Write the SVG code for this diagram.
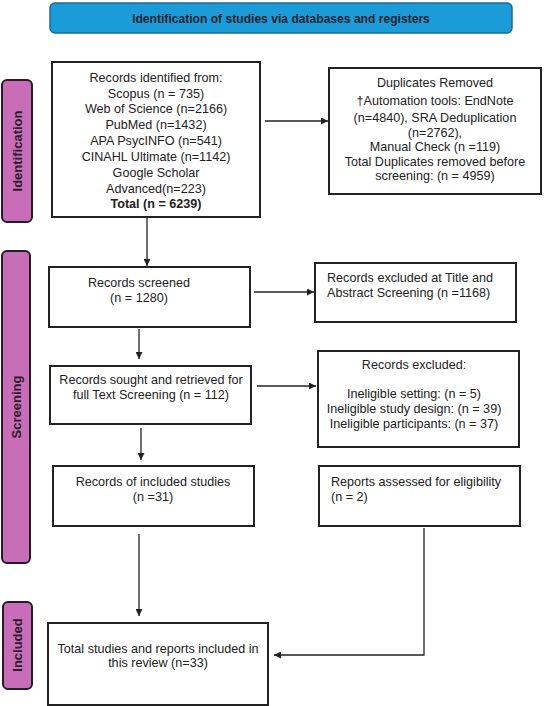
<svg xmlns="http://www.w3.org/2000/svg" width="550" height="706" viewBox="0 0 550 706">
<defs>
<style>
.box{fill:#fff;stroke:#222;stroke-width:2}
.side{fill:#c86db8;stroke:#2a1a25;stroke-width:2}
.t{font-family:"Liberation Sans",Arial,sans-serif;font-size:12.6px;fill:#222}
.c{text-anchor:middle}
.sl{font-family:"Liberation Sans",Arial,sans-serif;font-size:13px;font-weight:bold;fill:#2d1a2a;text-anchor:middle}
.ln{fill:none;stroke:#222;stroke-width:1.3}
</style>
<marker id="ah" viewBox="0 0 10 10" refX="10" refY="5" markerWidth="7" markerHeight="7" orient="auto" markerUnits="userSpaceOnUse">
<path d="M0,0 L10,5 L0,10 z" fill="#222"/>
</marker>
</defs>
<rect width="550" height="706" fill="#fff"/>
<g id="header">
<rect x="50" y="3" width="462" height="30" rx="5" fill="#1b9bd7" stroke="#1b6b95" stroke-width="1.5"/>
<text x="281" y="22.5" class="t c" style="font-weight:bold;font-size:12.1px;fill:#1a2530">Identification of studies via databases and registers</text>
</g>
<g id="side-identification">
<rect x="2" y="80" width="30" height="142" rx="5" class="side"/>
<text class="sl" transform="translate(21.5,151) rotate(-90)">Identification</text>
</g>
<g id="side-screening">
<rect x="2" y="251" width="28" height="312" rx="5" class="side"/>
<text class="sl" transform="translate(20.5,407) rotate(-90)">Screening</text>
</g>
<g id="side-included">
<rect x="3" y="602" width="29" height="87" rx="5" class="side"/>
<text class="sl" transform="translate(22,645) rotate(-90)">Included</text>
</g>
<g id="records-identified">
<rect x="52" y="62" width="208" height="155" class="box"/>
<text class="t c" x="156" y="82">Records identified from:</text>
<text class="t c" x="156" y="97.5">Scopus (n = 735)</text>
<text class="t c" x="156" y="113">Web of Science (n=2166)</text>
<text class="t c" x="156" y="129">PubMed (n=1432)</text>
<text class="t c" x="156" y="145">APA PsycINFO (n=541)</text>
<text class="t c" x="156" y="161">CINAHL Ultimate (n=1142)</text>
<text class="t c" x="156" y="176.5">Google Scholar</text>
<text class="t c" x="156" y="192.5">Advanced(n=223)</text>
<text class="t c" x="156" y="207.5" font-weight="bold">Total (n = 6239)</text>
</g>
<g id="duplicates">
<rect x="329" y="68" width="212" height="126" class="box"/>
<text class="t c" x="435" y="86.5">Duplicates Removed</text>
<text class="t c" x="435" y="105">†Automation tools: EndNote</text>
<text class="t c" x="435" y="121.5">(n=4840), SRA Deduplication</text>
<text class="t c" x="435" y="137">(n=2762),</text>
<text class="t c" x="435" y="151">Manual Check (n =119)</text>
<text class="t c" x="435" y="165.5">Total Duplicates removed before</text>
<text class="t c" x="435" y="179.5">screening: (n = 4959)</text>
</g>
<g id="records-screened">
<rect x="49" y="267" width="201" height="60" class="box"/>
<text class="t c" x="139" y="286.5">Records screened</text>
<text class="t c" x="139" y="301.5">(n = 1280)</text>
</g>
<g id="excluded-title">
<rect x="315" y="263" width="201" height="59" class="box"/>
<text class="t" x="327" y="281.5">Records excluded at Title and</text>
<text class="t" x="327" y="296.5">Abstract Screening (n =1168)</text>
</g>
<g id="records-sought">
<rect x="50" y="366" width="201" height="58" class="box"/>
<text class="t c" x="151" y="383.5">Records sought and retrieved for</text>
<text class="t c" x="151" y="398.5">full Text Screening (n = 112)</text>
</g>
<g id="records-excluded">
<rect x="318" y="351" width="201" height="96" class="box"/>
<text class="t c" x="414" y="368.5">Records excluded:</text>
<text class="t c" x="414" y="397.5">Ineligible setting: (n = 5)</text>
<text class="t c" x="414" y="412.5">Ineligible study design: (n = 39)</text>
<text class="t c" x="414" y="427.5">Ineligible participants: (n = 37)</text>
</g>
<g id="records-included">
<rect x="53" y="466" width="201" height="60" class="box"/>
<text class="t c" x="153" y="485.5">Records of included studies</text>
<text class="t c" x="153" y="500.5">(n =31)</text>
</g>
<g id="reports-assessed">
<rect x="319" y="466" width="201" height="60" class="box"/>
<text class="t" x="331" y="485.5">Reports assessed for eligibility</text>
<text class="t" x="331" y="500.5">(n = 2)</text>
</g>
<g id="total-included">
<rect x="48" y="623" width="220" height="82" class="box"/>
<text class="t c" x="158" y="652.5">Total studies and reports included in</text>
<text class="t c" x="158" y="667">this review (n=33)</text>
</g>
<g id="connectors">
<line class="ln" x1="265" y1="121" x2="328" y2="121" marker-end="url(#ah)"/>
<line class="ln" x1="147" y1="218" x2="147" y2="266" marker-end="url(#ah)"/>
<line class="ln" x1="254" y1="292" x2="314" y2="292" marker-end="url(#ah)"/>
<line class="ln" x1="139" y1="329" x2="139" y2="359" marker-end="url(#ah)"/>
<line class="ln" x1="257" y1="386" x2="316" y2="386" marker-end="url(#ah)"/>
<line class="ln" x1="141" y1="428" x2="141" y2="460" marker-end="url(#ah)"/>
<line class="ln" x1="139" y1="534" x2="139" y2="616" marker-end="url(#ah)"/>
<polyline class="ln" points="424,528 424,655 274,655" marker-end="url(#ah)"/>
</g>
</svg>
